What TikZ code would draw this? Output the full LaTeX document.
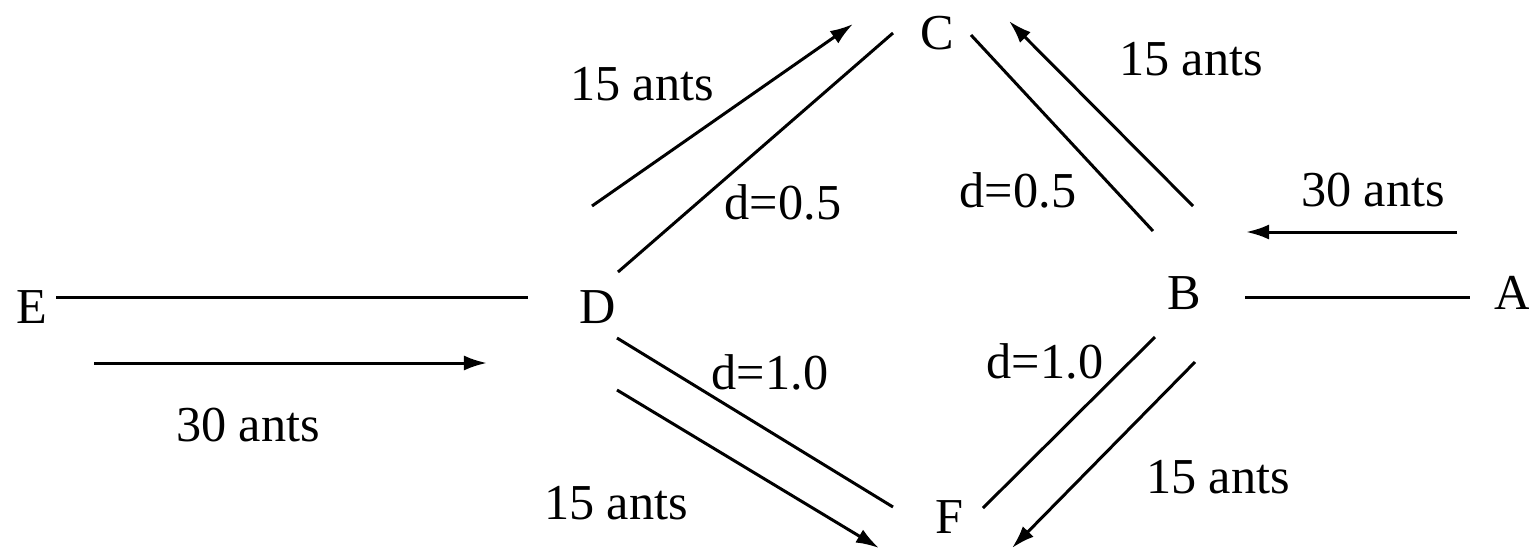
\documentclass[tikz,border=0pt]{standalone}
\usepackage{fontspec}
\setmainfont{Liberation Serif}
\usepackage{tikz}
\usetikzlibrary{arrows.meta}

\begin{document}
\begin{tikzpicture}[
  x=0.01cm, y=-0.01cm,
  nodo/.style={inner sep=0pt, font=\fontsize{14.3}{17}\selectfont},
  nota/.style={inner sep=0pt, font=\fontsize{14.3}{17}\selectfont},
  tramo/.style={line width=0.85pt},
  flecha/.style={line width=0.85pt, -{Latex[length=2.3mm, width=1.5mm]}},
]
  \useasboundingbox (0,0) rectangle (1529,557);

  % ciudades
  \node[nodo] (E) at (32,307)   {E};
  \node[nodo] (D) at (598,307)  {D};
  \node[nodo] (C) at (937,33)   {C};
  \node[nodo] (B) at (1184,293) {B};
  \node[nodo] (A) at (1513,293) {A};
  \node[nodo] (F) at (949,517)  {F};

  % extremos de los tramos
  \coordinate (ed1) at (56,297);   \coordinate (ed2) at (528,297);
  \coordinate (ba1) at (1245,297); \coordinate (ba2) at (1470,297);
  \coordinate (dc1) at (618,272);  \coordinate (dc2) at (893,33);
  \coordinate (cb1) at (971,35);   \coordinate (cb2) at (1153,231);
  \coordinate (df1) at (617,338);  \coordinate (df2) at (893,507);
  \coordinate (bf1) at (1155,337); \coordinate (bf2) at (983,508);

  \draw[tramo] (ed1) -- (ed2);
  \draw[tramo] (ba1) -- (ba2);
  \draw[tramo] (dc1) -- (dc2);
  \draw[tramo] (cb1) -- (cb2);
  \draw[tramo] (df1) -- (df2);
  \draw[tramo] (bf1) -- (bf2);

  % flujo de hormigas
  \coordinate (fe1) at (94,363);   \coordinate (fe2) at (487,363);
  \coordinate (fa1) at (1457,232); \coordinate (fa2) at (1246,232);
  \coordinate (fdc1) at (592,206); \coordinate (fdc2) at (853,24);
  \coordinate (fbc1) at (1193,206); \coordinate (fbc2) at (1009,21);
  \coordinate (fdf1) at (617,390); \coordinate (fdf2) at (879,548);
  \coordinate (fbf1) at (1195,362); \coordinate (fbf2) at (1012,548);

  \draw[flecha] (fe1) -- (fe2);
  \draw[flecha] (fa1) -- (fa2);
  \draw[flecha] (fdc1) -- (fdc2);
  \draw[flecha] (fbc1) -- (fbc2);
  \draw[flecha] (fdf1) -- (fdf2);
  \draw[flecha] (fbf1) -- (fbf2);

  % etiquetas
  \node[nota] (n30e) at (248,425)  {30 ants};
  \node[nota] (n30a) at (1373,190) {30 ants};
  \node[nota] (n15dc) at (642,84)  {15 ants};
  \node[nota] (n15bc) at (1191,59) {15 ants};
  \node[nota] (n15df) at (616,503) {15 ants};
  \node[nota] (n15bf) at (1218,477) {15 ants};

  \node[nota] (ddc) at (783,202)  {d=0.5};
  \node[nota] (dcb) at (1018,190) {d=0.5};
  \node[nota] (ddf) at (770,372)  {d=1.0};
  \node[nota] (dbf) at (1045,361) {d=1.0};
\end{tikzpicture}
\end{document}
